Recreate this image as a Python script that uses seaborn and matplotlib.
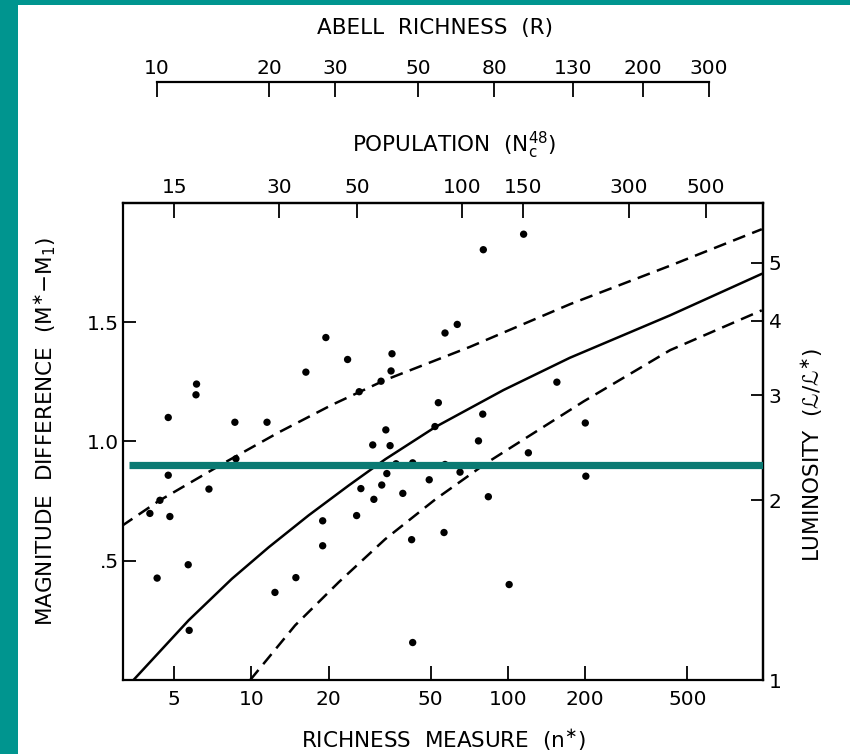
import numpy as np
import matplotlib
matplotlib.use("Agg")
import matplotlib.pyplot as plt
import seaborn as sns
from matplotlib.ticker import NullLocator
from matplotlib.patches import Rectangle

# ---------------- data ----------------
n_star = [4.74, 6.11, 6.08, 8.62, 11.5, 16.3, 19.5, 23.7, 26.3, 32.0,
          35.3, 35.0, 56.8, 33.4, 53.5, 51.9, 80.1, 115, 63.4, 79.7,
          155, 200, 76.7, 4.74, 8.70, 4.40, 4.02, 4.81, 6.83, 4.29,
          5.67, 5.72, 12.35, 14.9, 18.95, 18.95, 25.7, 26.7, 30.0, 29.7,
          34.7, 36.6, 33.7, 32.2, 38.9, 42.5, 49.3, 42.1, 56.3, 42.5,
          56.8, 120, 65.0, 201, 83.8, 101]
mag_diff = [1.10, 1.24, 1.195, 1.08, 1.08, 1.29, 1.435, 1.343, 1.208, 1.252,
            1.367, 1.295, 1.454, 1.048, 1.162, 1.062, 1.803, 1.868, 1.49, 1.114,
            1.248, 1.077, 1.002, 0.858, 0.927, 0.753, 0.698, 0.685, 0.80, 0.427,
            0.483, 0.208, 0.367, 0.429, 0.667, 0.5625, 0.689, 0.802, 0.757, 0.985,
            0.982, 0.906, 0.865, 0.817, 0.782, 0.91, 0.839, 0.588, 0.618, 0.157,
            0.903, 0.952, 0.871, 0.854, 0.768, 0.40]

solid_n = [3.47, 5.69, 8.39, 11.67, 16.71, 23.93, 33.24, 52.07, 96, 174, 428, 975]
solid_m = [0.0, 0.25, 0.424, 0.556, 0.69, 0.815, 0.925, 1.06, 1.215, 1.35,
           1.528, 1.702]
upper_n = [3.12, 4.35, 7.91, 12.77, 20.6, 33.2, 71.1, 174.6, 428, 975]
upper_m = [0.645, 0.75, 0.9125, 1.0375, 1.153, 1.257, 1.396, 1.575, 1.736, 1.889]
lower_n = [9.89, 14.8, 21.9, 33.2, 52.1, 82.6, 196.8, 428, 975]
lower_m = [0.0, 0.229, 0.41, 0.59, 0.757, 0.91, 1.167, 1.382, 1.549]

ref_level = 0.9

bottom_ticks = [5, 10, 20, 50, 100, 200, 500]
left_ticks = [0.5, 1.0, 1.5]
left_labels = [".5", "1.0", "1.5"]
lum_ticks = [1, 2, 3, 4, 5]
pop_ticks = [15, 30, 50, 100, 150, 300, 500]
abell_ticks = [10, 20, 30, 50, 80, 130, 200, 300]

POP_SLOPE, POP_ICPT = 0.735, 0.662
ABELL_SLOPE, ABELL_ICPT = 0.687, 0.566


def _lg(v):
    return np.log10(np.clip(np.asarray(v, dtype=float), 1e-12, None))


def n_to_pop(n):
    return 10 ** (POP_SLOPE * _lg(n) + POP_ICPT)


def pop_to_n(p):
    return 10 ** ((_lg(p) - POP_ICPT) / POP_SLOPE)


def abell_to_n(r):
    return 10 ** ((_lg(r) - ABELL_ICPT) / ABELL_SLOPE)


def mag_to_lum(m):
    return 10 ** (np.asarray(m, dtype=float) / 2.5)


def lum_to_mag(lum):
    return 2.5 * _lg(lum)


# ---------------- styling ----------------
sns.set_style("white")
plt.rcParams["font.family"] = ["DejaVu Sans", "STIXGeneral"]
plt.rcParams["mathtext.fontset"] = "dejavusans"
for key in ("text.color", "axes.labelcolor", "xtick.color", "ytick.color",
            "axes.edgecolor"):
    plt.rcParams[key] = "black"

TICK_FS = 14.5
LABEL_FS = 15.5

W, H = 850, 754
fig = plt.figure(figsize=(W / 100, H / 100), dpi=100)
fig.patch.set_facecolor("white")

ax_l, ax_r, ax_t, ax_b = 122.7, 763.3, 202.7, 680.0
ax = fig.add_axes([ax_l / W, 1 - ax_b / H, (ax_r - ax_l) / W, (ax_b - ax_t) / H])
ax.set_facecolor("white")

XLIM = (3.15, 988)
ax.set_xscale("log")
ax.set_xlim(*XLIM)
ax.set_ylim(0, 2.0)

sns.scatterplot(x=n_star, y=mag_diff, ax=ax, color="black", s=28,
                edgecolor="none", linewidth=0, zorder=3, legend=False)

line_kw = dict(ax=ax, color="black", linewidth=1.8, estimator=None,
               sort=False, legend=False)
sns.lineplot(x=solid_n, y=solid_m, **line_kw)
sns.lineplot(x=upper_n, y=upper_m, linestyle=(0, (5.2, 3.0)), **line_kw)
sns.lineplot(x=lower_n, y=lower_m, linestyle=(0, (5.2, 3.0)), **line_kw)

ax.axhline(ref_level, xmin=0.0103, xmax=1.0, color="#0b7a73", linewidth=5.2,
           zorder=5, solid_capstyle="butt")

# axes frame and ticks
for sp in ax.spines.values():
    sp.set_visible(True)
    sp.set_color("black")
    sp.set_linewidth(1.6)

ax.set_xticks(bottom_ticks)
ax.set_xticklabels([str(t) for t in bottom_ticks])
ax.xaxis.set_minor_locator(NullLocator())
ax.set_yticks(left_ticks)
ax.set_yticklabels(left_labels)
ax.yaxis.set_minor_locator(NullLocator())
ax.tick_params(axis="x", which="major", direction="in", length=10, width=1.3,
               bottom=True, top=False, labelsize=TICK_FS, pad=7)
ax.tick_params(axis="y", which="major", direction="in", length=9, width=1.3,
               left=True, right=False, labelsize=TICK_FS, pad=3)
ax.set_xlabel("")
ax.set_ylabel("")

# right axis: luminosity
secy = ax.secondary_yaxis("right", functions=(mag_to_lum, lum_to_mag))
secy.set_yticks(lum_ticks)
secy.set_yticklabels([str(t) for t in lum_ticks])
secy.yaxis.set_minor_locator(NullLocator())
secy.tick_params(axis="y", which="major", direction="in", length=9, width=1.3,
                 labelsize=TICK_FS, pad=4)
secy.spines["right"].set_linewidth(1.6)

# top axis: population
secx = ax.secondary_xaxis("top", functions=(n_to_pop, pop_to_n))
secx.set_xticks(pop_ticks)
secx.set_xticklabels([str(t) for t in pop_ticks])
secx.xaxis.set_minor_locator(NullLocator())
secx.tick_params(axis="x", which="major", direction="in", length=11, width=1.3,
                 labelsize=TICK_FS, pad=4)
secx.spines["top"].set_linewidth(1.6)

# floating Abell richness scale
line_y = 81.7
axA = fig.add_axes([ax_l / W, 1 - (line_y + 20) / H, (ax_r - ax_l) / W, 20 / H])
axA.set_xscale("log")
axA.set_xlim(*XLIM)
axA.patch.set_alpha(0)
for k in ("left", "right", "bottom"):
    axA.spines[k].set_visible(False)
axA.spines["top"].set_visible(True)
axA.spines["top"].set_color("black")
axA.spines["top"].set_linewidth(1.6)
a_pos = abell_to_n(abell_ticks)
axA.spines["top"].set_bounds(a_pos[0], a_pos[-1])
axA.set_xticks(a_pos)
axA.set_xticklabels([str(t) for t in abell_ticks])
axA.xaxis.set_minor_locator(NullLocator())
axA.set_yticks([])
axA.tick_params(axis="x", which="major", direction="in", length=10.5, width=1.3,
                top=True, bottom=False, labeltop=True, labelbottom=False,
                labelsize=TICK_FS, pad=3)

# titles / axis labels
fig.text(434.8 / W, 1 - 28 / H, "ABELL  RICHNESS  (R)", ha="center", va="center",
         fontsize=LABEL_FS)
fig.text(453.8 / W, 1 - 145 / H, r"POPULATION  (N$_{\rm c}^{48}$)", ha="center",
         va="center", fontsize=LABEL_FS)
fig.text(443 / W, 1 - 740 / H, r"RICHNESS  MEASURE  (n$^{\ast}$)", ha="center",
         va="center", fontsize=LABEL_FS)
fig.text(45 / W, 1 - 432 / H, r"MAGNITUDE  DIFFERENCE  (M$^{\ast}$$-$M$_{1}$)",
         ha="center", va="center", rotation=90, fontsize=LABEL_FS)
fig.text(812 / W, 1 - 455 / H, "LUMINOSITY  (\u2112/\u2112$^{\\ast}$)",
         ha="center", va="center", rotation=90, fontsize=LABEL_FS)

# teal frame of the slide
fig.patches.append(Rectangle((0, 0), 18 / W, 1, transform=fig.transFigure,
                             facecolor="#00958f", edgecolor="none", zorder=10))
fig.patches.append(Rectangle((0, 1 - 5 / H), 1, 5 / H, transform=fig.transFigure,
                             facecolor="#00958f", edgecolor="none", zorder=10))

fig.savefig("out.png", dpi=100, facecolor="white")
